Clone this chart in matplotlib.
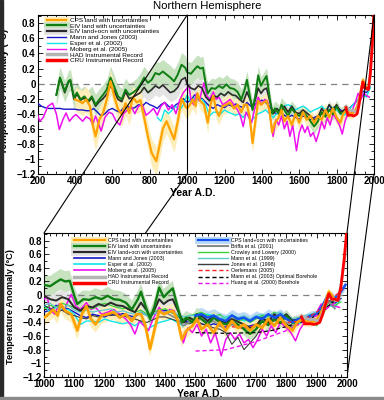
import numpy as np
import matplotlib
matplotlib.use('Agg')
import matplotlib.pyplot as plt
from matplotlib.patches import ConnectionPatch, Rectangle
from matplotlib.lines import Line2D
from matplotlib.ticker import MultipleLocator, FuncFormatter

plt.rcParams['font.family'] = ['Liberation Sans', 'DejaVu Sans']

# ---- reconstructions (degC anomaly) ----
cps_land_years = [400, 420, 440, 460, 480, 495, 510, 530, 550, 570, 590, 610, 630, 650, 670, 690,
                  710, 730, 750, 770, 790, 810, 835, 850, 870, 890, 910, 930, 950, 970, 990,
                  1000, 1015, 1030, 1045, 1055, 1070, 1090, 1110, 1125, 1140, 1155, 1170, 1190,
                  1210, 1230, 1250, 1270, 1290, 1305, 1320, 1335, 1350, 1365, 1380, 1395,
                  1410, 1425, 1440, 1455, 1470, 1490, 1505, 1520, 1540, 1560, 1580,
                  1600, 1620, 1640, 1660, 1680, 1700, 1720, 1740, 1760, 1780,
                  1800, 1820, 1835, 1850, 1865, 1880, 1895, 1910, 1925, 1940, 1950, 1960, 1970]
cps_land = [-0.21, -0.23, -0.26, -0.21, -0.30, -0.55, -0.70, -0.48, -0.39, -0.21, 0.03, -0.17, -0.34, -0.41, -0.26, -0.39,
            -0.18, -0.25, -0.22, -0.45, -0.70, -0.92, -1.03, -0.85, -0.60, -0.50, -0.62, -0.74, -0.50, -0.20, -0.30,
            -0.33, -0.28, -0.21, -0.30, -0.13, -0.23, -0.28, -0.52, -0.28, -0.16, -0.35, -0.43, -0.30,
            -0.28, -0.25, -0.33, -0.28, -0.38, -0.28, -0.28, -0.45, -0.79, -0.50, -0.23, -0.28,
            -0.25, -0.23, -0.35, -0.65, -0.52, -0.45, -0.35, -0.50, -0.43, -0.55, -0.40,
            -0.52, -0.38, -0.48, -0.43, -0.52, -0.43, -0.48, -0.35, -0.45, -0.33,
            -0.45, -0.52, -0.40, -0.36, -0.38, -0.40, -0.38, -0.30, -0.15, 0.05, 0.00, -0.08, -0.05]
cps_land_err = [0.16, 0.16, 0.17, 0.17, 0.17, 0.18, 0.19, 0.18, 0.17, 0.16,
                0.15, 0.15, 0.16, 0.16, 0.16, 0.16, 0.15, 0.15, 0.15, 0.16,
                0.17, 0.18, 0.19, 0.18, 0.17, 0.16, 0.16, 0.17, 0.16, 0.15, 0.15,
                0.13, 0.12, 0.12, 0.12, 0.12, 0.12, 0.12, 0.13, 0.12, 0.12,
                0.12, 0.12, 0.12, 0.11, 0.11, 0.11, 0.11, 0.11, 0.11, 0.11,
                0.11, 0.12, 0.13, 0.11, 0.10, 0.10, 0.10, 0.10, 0.11, 0.11,
                0.10, 0.09, 0.09, 0.09, 0.09, 0.09, 0.09, 0.09, 0.09, 0.09,
                0.09, 0.09, 0.09, 0.09, 0.09, 0.09, 0.09, 0.09, 0.09, 0.09,
                0.08, 0.07, 0.06, 0.05, 0.05, 0.05, 0.05, 0.05, 0.05]

eiv_land_years = [300, 320, 345, 365, 375, 395, 410, 430, 450, 470, 490, 510, 530, 550, 570, 590,
                  610, 630, 650, 670, 690, 710, 730, 750, 770, 790, 810, 830, 850, 870, 890,
                  910, 930, 950, 970, 990,
                  1000, 1020, 1040, 1055, 1070, 1085, 1100, 1110, 1130, 1150, 1170, 1190,
                  1210, 1230, 1250, 1270, 1290, 1310, 1320, 1335, 1350, 1365, 1380, 1395,
                  1410, 1425, 1440, 1455, 1470, 1490, 1505, 1520, 1540, 1560, 1580,
                  1600, 1620, 1640, 1660, 1680, 1700, 1720, 1740, 1760, 1780, 1800, 1820, 1840, 1850]
eiv_land = [-0.15, 0.08, -0.10, 0.03, 0.05, -0.19, -0.12, -0.21, -0.17, -0.23, -0.17, -0.28, -0.21, -0.15, -0.08, 0.08,
            -0.04, -0.17, -0.21, -0.08, -0.15, -0.12, -0.08, -0.01, 0.08, 0.01, 0.05, 0.14, 0.12, 0.16, 0.12,
            0.08, 0.03, 0.12, 0.25, 0.21,
            0.15, 0.13, 0.19, 0.23, 0.20, 0.21, -0.01, -0.13, -0.06, -0.07, -0.03, -0.06,
            -0.01, -0.06, -0.07, -0.11, -0.21, -0.06, 0.05, -0.16, -0.35, -0.16, 0.11, -0.03,
            0.04, 0.10, -0.16, -0.40, -0.33, -0.40, -0.28, -0.35, -0.43, -0.33, -0.40,
            -0.43, -0.38, -0.43, -0.50, -0.57, -0.50, -0.38, -0.44, -0.35, -0.41, -0.30, -0.40, -0.38, -0.36]
eiv_land_err = [0.14, 0.14, 0.14, 0.14, 0.14, 0.14, 0.14, 0.14, 0.14, 0.14,
                0.14, 0.14, 0.14, 0.14, 0.14, 0.15, 0.15, 0.15, 0.15, 0.15,
                0.15, 0.15, 0.15, 0.15, 0.15, 0.15, 0.15, 0.15, 0.16, 0.16,
                0.16, 0.16, 0.16, 0.16, 0.16, 0.16,
                0.15, 0.15, 0.15, 0.15, 0.15, 0.15, 0.14, 0.14, 0.13, 0.13,
                0.13, 0.13, 0.13, 0.13, 0.13, 0.13, 0.13, 0.12, 0.12, 0.12,
                0.12, 0.12, 0.12, 0.12, 0.11, 0.11, 0.11, 0.10, 0.10, 0.10,
                0.10, 0.10, 0.10, 0.10, 0.10, 0.10, 0.09, 0.09, 0.09, 0.09,
                0.09, 0.09, 0.09, 0.09, 0.08, 0.08, 0.08, 0.08, 0.08]

eiv_ocn_years = [300, 320, 345, 365, 375, 395, 410, 430, 450, 470, 490, 510, 530, 550, 570, 590,
                 610, 630, 650, 670, 690, 710, 730, 750, 770, 790, 810, 830, 850, 870, 890,
                 910, 930, 950, 970, 990,
                 1000, 1020, 1040, 1060, 1080, 1100, 1120, 1140, 1160, 1180,
                 1200, 1220, 1240, 1260, 1280, 1300, 1320, 1340, 1350, 1365, 1380, 1395,
                 1410, 1425, 1440, 1460, 1480, 1500, 1520, 1540, 1560, 1580,
                 1600, 1620, 1640, 1660, 1680, 1700, 1720, 1740, 1760, 1780, 1800, 1820, 1840, 1850]
eiv_ocn = [-0.15, 0.07, -0.12, 0.02, 0.04, -0.21, -0.14, -0.22, -0.19, -0.25, -0.19, -0.30, -0.24, -0.20, -0.14, -0.03,
           -0.10, -0.21, -0.24, -0.11, -0.20, -0.18, -0.15, -0.12, -0.05, -0.12, -0.08, -0.03, -0.06, -0.02, -0.07,
           -0.12, -0.10, -0.05, 0.05, 0.08,
           -0.01, -0.06, -0.08, -0.03, -0.06, -0.18, -0.23, -0.16, -0.18, -0.13,
           -0.16, -0.11, -0.15, -0.16, -0.21, -0.25, -0.11, -0.23, -0.33, -0.21, -0.06, -0.13,
           -0.08, -0.06, -0.21, -0.40, -0.33, -0.38, -0.30, -0.38, -0.30, -0.38,
           -0.40, -0.35, -0.39, -0.43, -0.48, -0.45, -0.33, -0.40, -0.28, -0.35, -0.28, -0.38, -0.35, -0.33]
eiv_ocn_err = [0.12, 0.12, 0.12, 0.12, 0.12, 0.12, 0.12, 0.12, 0.12, 0.12,
               0.12, 0.12, 0.12, 0.12, 0.12, 0.12, 0.12, 0.12, 0.12, 0.12,
               0.12, 0.12, 0.12, 0.12, 0.12, 0.12, 0.12, 0.12, 0.12, 0.12,
               0.12, 0.12, 0.12, 0.12, 0.12, 0.12,
               0.11, 0.11, 0.11, 0.11, 0.11, 0.10, 0.10, 0.10, 0.10, 0.10,
               0.10, 0.10, 0.10, 0.10, 0.09, 0.09, 0.09, 0.09, 0.09, 0.09,
               0.09, 0.09, 0.08, 0.08, 0.08, 0.08, 0.08, 0.08, 0.08, 0.08,
               0.07, 0.07, 0.07, 0.07, 0.07, 0.07, 0.07, 0.07, 0.07, 0.07,
               0.06, 0.06, 0.06, 0.06, 0.06, 0.06]

mann_jones_years = list(range(200, 2000, 20))
mann_jones = [-0.26, -0.30, -0.32, -0.33, -0.33, -0.33, -0.33, -0.34, -0.34, -0.34,
              -0.34, -0.35, -0.35, -0.36, -0.36, -0.33, -0.38, -0.43, -0.40, -0.35,
              -0.33, -0.36, -0.38, -0.32, -0.30, -0.33, -0.32, -0.28, -0.30, -0.25,
              -0.28, -0.30, -0.33, -0.28, -0.25, -0.30, -0.33, -0.28, -0.25, -0.20,
              -0.25, -0.22, -0.15, -0.18, -0.20, -0.25, -0.30, -0.33, -0.28, -0.30,
              -0.32, -0.28, -0.30, -0.27, -0.30, -0.32, -0.25, -0.30, -0.28, -0.25,
              -0.22, -0.25, -0.30, -0.38, -0.40, -0.38, -0.42, -0.45, -0.42, -0.45,
              -0.47, -0.43, -0.45, -0.48, -0.45, -0.43, -0.40, -0.38, -0.35, -0.32,
              -0.30, -0.35, -0.38, -0.35, -0.30, -0.25, -0.20, -0.10, -0.12, -0.05]

esper_years = [840, 860, 880, 900, 920, 940, 960, 980] + list(range(1000, 2000, 20))
esper = [-0.45, -0.50, -0.35, -0.40, -0.35, -0.30, -0.35, -0.28,
         -0.15, -0.25, -0.18, -0.22, -0.21, -0.28, -0.43, -0.38, -0.38, -0.40,
         -0.35, -0.38, -0.40, -0.42, -0.40, -0.45, -0.38, -0.50, -0.45, -0.40,
         -0.38, -0.35, -0.40, -0.45, -0.40, -0.38, -0.30, -0.28, -0.30, -0.35,
         -0.32, -0.30, -0.33, -0.38, -0.35, -0.33, -0.30, -0.35, -0.30, -0.32,
         -0.35, -0.40, -0.42, -0.38, -0.30, -0.25, -0.20, -0.15, -0.18, -0.05]

moberg_years = [200, 212, 230, 255, 280, 300, 316, 335, 352, 370, 390, 405, 425, 441, 460,
                480, 495, 510, 540, 560, 582, 600, 620, 640, 660, 680, 700, 720, 740, 760,
                780, 800, 820, 840, 860, 880, 900, 920, 940, 960, 980,
                1000, 1010, 1020, 1035, 1050, 1065, 1080, 1090, 1105, 1120, 1140, 1155, 1170, 1190,
                1210, 1230, 1250, 1270, 1285, 1300, 1315, 1330, 1345, 1360, 1380, 1400,
                1415, 1430, 1445, 1460, 1475, 1490, 1505, 1520, 1535, 1550, 1565, 1585,
                1600, 1615, 1630, 1645, 1660, 1675, 1690, 1705, 1720, 1735, 1750, 1765,
                1780, 1800, 1815, 1830, 1845, 1860, 1880, 1900, 1915, 1930, 1945, 1960, 1975]
moberg = [-0.42, -0.50, -0.45, -0.30, -0.26, -0.40, -0.61, -0.48, -0.39, -0.50, -0.44, -0.41, -0.46, -0.50, -0.44,
          -0.47, -0.54, -0.43, -0.63, -0.45, -0.38, -0.40, -0.50, -0.55, -0.40, -0.35, -0.30, -0.40, -0.30, -0.28,
          -0.42, -0.38, -0.33, -0.42, -0.30, -0.25, -0.35, -0.28, -0.40, -0.22, -0.12,
          -0.06, -0.03, -0.21, -0.28, -0.13, -0.23, -0.08, 0.01, -0.16, -0.21, -0.11, -0.21, -0.18, -0.28,
          -0.25, -0.21, -0.28, -0.35, -0.43, -0.57, -0.38, -0.45, -0.52, -0.35, -0.18, -0.28,
          -0.21, -0.23, -0.45, -0.70, -0.48, -0.55, -0.43, -0.60, -0.50, -0.70, -0.55, -0.89,
          -0.65, -0.55, -0.65, -0.57, -0.70, -0.65, -0.77, -0.65, -0.50, -0.60, -0.45, -0.55,
          -0.40, -0.48, -0.55, -0.67, -0.50, -0.40, -0.38, -0.25, -0.13, -0.21, -0.13, -0.16, -0.18]

instr_years = list(range(1850, 2001, 10))
had = [-0.30, -0.33, -0.35, -0.36, -0.35, -0.38, -0.36, -0.25, -0.12, -0.02, -0.05, -0.08, -0.08, 0.15, 0.45, 0.85]
cru = [-0.32, -0.42, -0.42, -0.42, -0.43, -0.42, -0.40, -0.28, -0.12, 0.02, -0.06, -0.06, -0.08, 0.12, 0.50, 0.97]

# ---- extra series shown only in the 1000-2000 panel ----
cps_ocn_years = list(range(1500, 2000, 20)) + [1995]
cps_ocn = [-0.30, -0.28, -0.33, -0.30, -0.35, -0.38, -0.30, -0.35, -0.33, -0.38,
           -0.32, -0.35, -0.28, -0.33, -0.28, -0.35, -0.40, -0.35, -0.35, -0.30,
           -0.28, -0.15, 0.03, -0.05, 0.05, 0.15]
cps_ocn_err = [0.10, 0.10, 0.10, 0.10, 0.10, 0.10, 0.09, 0.09, 0.09, 0.09,
               0.09, 0.08, 0.08, 0.08, 0.08, 0.08, 0.08, 0.07, 0.07, 0.07,
               0.06, 0.06, 0.06, 0.06, 0.06, 0.06]

briffa_years = list(range(1400, 1961, 20))
briffa = [-0.25, -0.30, -0.35, -0.45, -0.40, -0.38, -0.35, -0.40, -0.38, -0.45,
          -0.50, -0.42, -0.45, -0.48, -0.50, -0.45, -0.38, -0.35, -0.30, -0.35,
          -0.40, -0.45, -0.40, -0.35, -0.32, -0.28, -0.18, -0.10, -0.20]

mill_years = list(range(1000, 2000, 20))
crowley = [-0.20, -0.15, -0.18, -0.12, -0.15, -0.18, -0.22, -0.18, -0.20, -0.15,
           -0.12, -0.15, -0.18, -0.20, -0.18, -0.25, -0.22, -0.28, -0.25, -0.22,
           -0.20, -0.25, -0.30, -0.35, -0.30, -0.28, -0.25, -0.30, -0.32, -0.28,
           -0.35, -0.30, -0.38, -0.35, -0.40, -0.35, -0.30, -0.32, -0.25, -0.30,
           -0.35, -0.42, -0.38, -0.35, -0.38, -0.45, -0.30, -0.10, -0.15, -0.10]
mann99 = [-0.15, -0.12, -0.18, -0.20, -0.15, -0.22, -0.25, -0.22, -0.25, -0.23,
          -0.22, -0.20, -0.25, -0.23, -0.26, -0.28, -0.25, -0.30, -0.28, -0.25,
          -0.25, -0.22, -0.28, -0.32, -0.30, -0.30, -0.28, -0.32, -0.30, -0.30,
          -0.35, -0.28, -0.33, -0.30, -0.35, -0.30, -0.28, -0.30, -0.27, -0.25,
          -0.30, -0.35, -0.32, -0.30, -0.28, -0.25, -0.20, -0.08, -0.10, 0.00]
jones = [-0.15, -0.20, -0.25, -0.22, -0.28, -0.30, -0.33, -0.35, -0.30, -0.32,
         -0.28, -0.30, -0.28, -0.30, -0.33, -0.35, -0.38, -0.40, -0.36, -0.32,
         -0.32, -0.35, -0.38, -0.40, -0.42, -0.38, -0.42, -0.45, -0.48, -0.50,
         -0.55, -0.72, -0.62, -0.80, -0.70, -0.60, -0.45, -0.40, -0.38, -0.35,
         -0.42, -0.48, -0.40, -0.35, -0.30, -0.30, -0.20, -0.08, -0.10, -0.05]

oerlemans_years = [1600, 1650, 1700, 1750, 1800, 1850, 1900, 1950, 1990]
oerlemans = [-0.45, -0.48, -0.45, -0.42, -0.40, -0.38, -0.25, -0.05, 0.10]
borehole03_years = [1500, 1600, 1700, 1750, 1800, 1850, 1900, 1950, 1980]
borehole03 = [-0.55, -0.56, -0.55, -0.52, -0.46, -0.40, -0.30, -0.12, 0.00]
huang_years = [1500, 1600, 1700, 1800, 1900, 1980]
huang = [-0.82, -0.80, -0.68, -0.52, -0.30, -0.05]

# colours
C_ORANGE, C_YELLOW = '#ffa200', '#fdedb8'
C_GREEN, C_LGREEN = '#0e7d12', '#c6e2bf'
C_BLACK, C_LGRAY = '#2a2a2a', '#e4e4e4'
C_BLUE, C_CYAN, C_MAG = '#1515c8', '#10e6ea', '#ee10ee'
C_HAD, C_RED = '#b4b4b4', '#ff0000'
C_CPSO, C_LBLUE = '#1450f0', '#bcdaf6'


def band(ax, yrs, vals, err, color):
    v = np.array(vals)
    e = np.array(err)
    ax.fill_between(yrs, v - e, v + e, color=color, lw=0, zorder=1)


def draw_common(ax, lw_scale=1.0):
    band(ax, eiv_ocn_years, eiv_ocn, eiv_ocn_err, C_LGRAY)
    band(ax, eiv_land_years, eiv_land, eiv_land_err, C_LGREEN)
    band(ax, cps_land_years, cps_land, cps_land_err, C_YELLOW)
    ax.plot(mann_jones_years, mann_jones, color=C_BLUE, lw=1.0, zorder=3)
    ax.plot(esper_years, esper, color=C_CYAN, lw=1.0, zorder=3)
    ax.plot(moberg_years, moberg, color=C_MAG, lw=1.1, zorder=3)
    ax.plot(eiv_ocn_years, eiv_ocn, color=C_BLACK, lw=1.2 * lw_scale, zorder=4)
    ax.plot(eiv_land_years, eiv_land, color=C_GREEN, lw=1.4 * lw_scale, zorder=4)
    ax.plot(cps_land_years, cps_land, color=C_ORANGE, lw=1.6 * lw_scale, zorder=5)
    ax.plot(instr_years, had, color=C_HAD, lw=2.0, zorder=5)
    ax.plot(instr_years, cru, color=C_RED, lw=2.0, zorder=6)


def style_axes(ax, xmaj, xmin_, xlim):
    ax.set_xlim(*xlim)
    ax.set_ylim(-1.2, 0.91)
    ax.axhline(0, color='#808080', lw=0.9, ls=(0, (5, 4)), zorder=2)
    ax.xaxis.set_major_locator(MultipleLocator(xmaj))
    ax.xaxis.set_minor_locator(MultipleLocator(xmin_))
    ax.yaxis.set_major_locator(MultipleLocator(0.2))
    ax.yaxis.set_minor_locator(MultipleLocator(0.1))
    ax.yaxis.set_major_formatter(FuncFormatter(
        lambda v, p: ('%g' % round(v, 2)).replace('-', '\u2212')))
    ax.tick_params(which='both', direction='in', top=True, right=True, width=0.6)
    ax.tick_params(which='major', length=3.5, labelsize=7, pad=1.5)
    ax.tick_params(which='minor', length=2)
    for lab in ax.get_xticklabels() + ax.get_yticklabels():
        lab.set_fontweight('bold')
    for s in ax.spines.values():
        s.set_linewidth(0.8)


fig = plt.figure(figsize=(3.84, 4.0), dpi=100)
ax1 = fig.add_axes([0.098, 0.565, 0.876, 0.3975])
ax2 = fig.add_axes([0.1146, 0.0575, 0.789, 0.36])
ax2.set_zorder(5)

# ---- top: 200-2000 ----
draw_common(ax1)
ax1.axvline(1000, color='black', lw=0.8, zorder=7)
style_axes(ax1, 200, 50, (200, 2000))
ax1.set_xlabel('Year A.D.', fontsize=7.5, fontweight='bold')
ax1.xaxis.set_label_coords(0.46, -0.09)
ax1.set_ylabel('Temperature Anomaly (\u00b0C)', fontsize=7.2, fontweight='bold')
ax1.yaxis.set_label_coords(-0.085, 0.52)

def unc(light, dark, lw=1.6):
    return (Line2D([], [], color=light, lw=5), Line2D([], [], color=dark, lw=lw))

top_handles = [unc(C_YELLOW, C_ORANGE), unc(C_LGREEN, C_GREEN), unc(C_LGRAY, C_BLACK),
               Line2D([], [], color=C_BLUE, lw=1.0), Line2D([], [], color=C_CYAN, lw=1.0),
               Line2D([], [], color=C_MAG, lw=1.0), Line2D([], [], color=C_HAD, lw=2.5),
               Line2D([], [], color=C_RED, lw=2.5)]
top_labels = ['CPS land with uncertainties', 'EIV land with uncertainties',
              'EIV land+ocn with uncertainties', 'Mann and Jones (2003)', 'Esper et al. (2002)',
              'Moberg et al. (2005)', 'HAD Instrumental Record', 'CRU Instrumental Record']
leg1 = ax1.legend(top_handles, top_labels, loc='upper left', bbox_to_anchor=(0.027, 0.985),
                  frameon=False, fontsize=4.6, handlelength=3.0, handletextpad=0.7,
                  labelspacing=0.05, borderpad=0, borderaxespad=0)
leg1.set_zorder(8)

fig.text(0.54, 0.998, 'Northern Hemisphere', ha='center', va='top', fontsize=8.2)

# ---- bottom: 1000-2000 ----
band(ax2, cps_ocn_years, cps_ocn, cps_ocn_err, C_LBLUE)
draw_common(ax2, lw_scale=1.2)
ax2.plot(mill_years, crowley, color='#3cd23c', lw=0.9, zorder=3)
ax2.plot(mill_years, mann99, color='#5ccccc', lw=0.9, zorder=3)
ax2.plot(mill_years, jones, color='#3c3c3c', lw=0.8, zorder=3)
ax2.plot(briffa_years, briffa, color='#8a8a8a', lw=1.2, zorder=3)
ax2.plot(cps_ocn_years, cps_ocn, color=C_CPSO, lw=1.8, zorder=4)
ax2.plot(oerlemans_years, oerlemans, color='#ff2020', lw=0.9, ls=(0, (3, 2)), zorder=4)
ax2.plot(borehole03_years, borehole03, color='black', lw=0.9, ls=(0, (3, 2)), zorder=4)
ax2.plot(huang_years, huang, color=C_MAG, lw=1.0, ls=(0, (3, 2)), zorder=4)
style_axes(ax2, 100, 20, (1000, 2000))
ax2.set_xlabel('Year A.D.', fontsize=7.5, fontweight='bold')
ax2.xaxis.set_label_coords(0.515, -0.085)
ax2.set_ylabel('Temperature Anomaly (\u00b0C)', fontsize=6.6, fontweight='bold')
ax2.yaxis.set_label_coords(-0.095, 0.49)

bot_handles = top_handles[:3] + [Line2D([], [], color=C_BLUE, lw=1.2),
                                 Line2D([], [], color=C_CYAN, lw=1.2),
                                 Line2D([], [], color=C_MAG, lw=1.2),
                                 Line2D([], [], color=C_HAD, lw=2.5),
                                 Line2D([], [], color=C_RED, lw=2.5),
                                 unc(C_LBLUE, C_CPSO),
                                 Line2D([], [], color='#8a8a8a', lw=1.5),
                                 Line2D([], [], color='#3cd23c', lw=1.0),
                                 Line2D([], [], color='#5ccccc', lw=1.0),
                                 Line2D([], [], color='#3c3c3c', lw=1.0),
                                 Line2D([], [], color='#ff2020', lw=1.0, ls=(0, (3, 2))),
                                 Line2D([], [], color='black', lw=1.0, ls=(0, (3, 2))),
                                 Line2D([], [], color=C_MAG, lw=1.0, ls=(0, (3, 2)))]
bot_labels = top_labels[:3] + ['Mann and Jones (2003)', 'Esper et al. (2002)', 'Moberg et al. (2005)',
                               'HAD Instrumental Record', 'CRU Instrumental Record',
                               'CPS land+ocn with uncertainties', 'Briffa et al. (2001)',
                               'Crowley and Lowery (2000)', 'Mann et al. (1999)', 'Jones et al. (1998)',
                               'Oerlemans (2005)', 'Mann et al. (2003) Optimal Borehole',
                               'Huang et al. (2000) Borehole']
leg2 = ax2.legend(bot_handles, bot_labels, loc='upper left', bbox_to_anchor=(0.1, 0.965), ncol=2,
                  frameon=False, fontsize=3.8, handlelength=5.8, handletextpad=0.6,
                  labelspacing=0.2, columnspacing=2.8, borderpad=0, borderaxespad=0)
leg2.set_zorder(8)

# zoom lines joining the 1000-2000 window to the lower panel
for yr in (1000, 2000):
    for yv in (0.91, -1.2):
        cp = ConnectionPatch(xyA=(yr, yv), coordsA=ax1.transData,
                             xyB=(yr, yv), coordsB=ax2.transData,
                             color='black', lw=0.8, zorder=3)
        fig.add_artist(cp)

# scan border of the original image
fig.add_artist(Rectangle((0, 0), 2.5 / 384, 1, transform=fig.transFigure, color='#2a2a2a', zorder=10))
fig.add_artist(Rectangle((0, 0), 1, 3.5 / 400, transform=fig.transFigure, color='#8a8a8a', zorder=10))

fig.savefig('out.png', dpi=100)
